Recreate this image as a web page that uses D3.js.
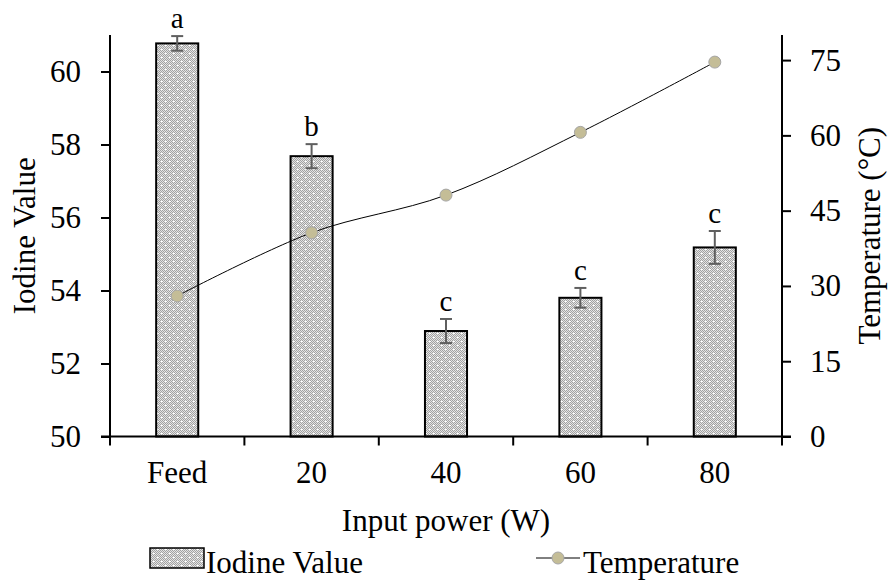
<!DOCTYPE html>
<html>
<head>
<meta charset="utf-8">
<script src="https://cdn.jsdelivr.net/npm/d3@7"></script>
<style>
  html, body { margin: 0; padding: 0; background: #fff; }
  svg { display: block; }
  text { font-family: "Liberation Serif", "Times New Roman", serif; fill: #000; }
</style>
</head>
<body>
<svg id="chart" width="888" height="580"></svg>
<script>
// Iodine value (bars, left axis) and temperature (line, right axis) by input power
const categories = ["Feed", "20", "40", "60", "80"];
const iodineValue = [60.77, 57.68, 52.89, 53.80, 55.18];
const iodineError = [0.20, 0.33, 0.33, 0.27, 0.45];
const groupLetters = ["a", "b", "c", "c", "c"];
const temperature = [28.0, 40.6, 48.1, 60.6, 74.6];
const leftTicks = [50, 52, 54, 56, 58, 60];
const rightTicks = [0, 15, 30, 45, 60, 75];

const svg = d3.select("#chart");
const plot = { left: 110, right: 782, top: 35, bottom: 436.5 };
const fontSize = 31;

const x = d3.scaleBand().domain(categories).range([plot.left, plot.right]).padding(0);
const yL = d3.scaleLinear().domain([50, 61]).range([plot.bottom, plot.top]);
const yR = d3.scaleLinear().domain([0, 80]).range([plot.bottom, plot.top]);
const barW = x.bandwidth() * 0.313;

// Dotted-grid fill for the bars
const defs = svg.append("defs");
const pat = defs.append("pattern")
  .attr("id", "dotGrid").attr("patternUnits", "userSpaceOnUse")
  .attr("width", 8).attr("height", 8);
pat.append("rect").attr("width", 8).attr("height", 8).attr("fill", "#e4e4e4");
for (let i = 0; i < 8; i++) {
  for (let j = 0; j < 8; j++) {
    if ((i + j) % 2 === 0) {
      pat.append("rect").attr("x", i).attr("y", j).attr("width", 1).attr("height", 1).attr("fill", "#a2a2a2");
    }
  }
}
pat.append("rect").attr("x", 1).attr("y", 1).attr("width", 2).attr("height", 1).attr("fill", "#ffffff");
pat.append("rect").attr("x", 5).attr("y", 5).attr("width", 2).attr("height", 1).attr("fill", "#ffffff");

// Bars
svg.append("g").selectAll("rect")
  .data(categories)
  .join("rect")
  .attr("x", (d) => x(d) + x.bandwidth() / 2 - barW / 2)
  .attr("y", (d, i) => yL(iodineValue[i]))
  .attr("width", barW)
  .attr("height", (d, i) => yL(50) - yL(iodineValue[i]))
  .attr("fill", "url(#dotGrid)")
  .attr("stroke", "#000")
  .attr("stroke-width", 2);

// Error bars
const eb = svg.append("g").attr("stroke", "#5f5f5f").attr("stroke-width", 2);
categories.forEach((c, i) => {
  const cx = x(c) + x.bandwidth() / 2;
  const hi = yL(iodineValue[i] + iodineError[i]);
  const lo = yL(iodineValue[i] - iodineError[i]);
  eb.append("line").attr("x1", cx).attr("x2", cx).attr("y1", hi).attr("y2", lo);
  eb.append("line").attr("x1", cx - 6).attr("x2", cx + 6).attr("y1", hi).attr("y2", hi);
  eb.append("line").attr("x1", cx - 6).attr("x2", cx + 6).attr("y1", lo).attr("y2", lo);
});

// Significance letters
svg.append("g").selectAll("text")
  .data(categories)
  .join("text")
  .attr("x", (d) => x(d) + x.bandwidth() / 2)
  .attr("y", (d, i) => yL(iodineValue[i] + iodineError[i]) - 8)
  .attr("text-anchor", "middle")
  .attr("font-size", 29)
  .text((d, i) => groupLetters[i]);

// Temperature line
const line = d3.line()
  .x((d, i) => x(categories[i]) + x.bandwidth() / 2)
  .y((d) => yR(d))
  .curve(d3.curveCatmullRom.alpha(0.5));
svg.append("path")
  .datum(temperature)
  .attr("d", line)
  .attr("fill", "none")
  .attr("stroke", "#000")
  .attr("stroke-width", 1);
svg.append("g").selectAll("circle")
  .data(temperature)
  .join("circle")
  .attr("cx", (d, i) => x(categories[i]) + x.bandwidth() / 2)
  .attr("cy", (d) => yR(d))
  .attr("r", 6)
  .attr("fill", "#c4bd97")
  .attr("stroke", "#a6a6a6")
  .attr("stroke-width", 1);

// Axes
const gL = svg.append("g").attr("transform", `translate(${plot.left},0)`)
  .call(d3.axisLeft(yL).tickValues(leftTicks).tickSize(9).tickPadding(20).tickFormat(d3.format("d")));
const gR = svg.append("g").attr("transform", `translate(${plot.right},0)`)
  .call(d3.axisRight(yR).tickValues(rightTicks).tickSize(9).tickPadding(19).tickFormat(d3.format("d")));
const gX = svg.append("g").attr("transform", `translate(0,${plot.bottom})`)
  .call(d3.axisBottom(x).tickSize(0).tickPadding(24));

[gL, gR, gX].forEach((g) => {
  g.select(".domain").attr("stroke", "#000").attr("stroke-width", 2);
  g.selectAll(".tick line").attr("stroke", "#000").attr("stroke-width", 2);
  g.selectAll(".tick text").attr("font-size", fontSize).attr("font-family", "Liberation Serif").attr("fill", "#000");
});
gL.select(".domain").attr("d", `M0,${plot.top}V${plot.bottom}`);
gR.select(".domain").attr("d", `M0,${plot.top}V${plot.bottom}`);
gX.select(".domain").attr("d", `M${plot.left - 9},0H${plot.right + 9}`);
gX.selectAll(".tick text").attr("dy", "0.71em");

// Category boundary ticks on the x axis
const bounds = categories.map((c) => x(c)).concat([plot.right]);
svg.append("g").selectAll("line")
  .data(bounds)
  .join("line")
  .attr("x1", (d) => d).attr("x2", (d) => d)
  .attr("y1", plot.bottom).attr("y2", plot.bottom + 9)
  .attr("stroke", "#000").attr("stroke-width", 2);

// Axis titles
svg.append("text")
  .attr("transform", `translate(35,${(plot.top + plot.bottom) / 2}) rotate(-90)`)
  .attr("text-anchor", "middle")
  .attr("font-size", fontSize)
  .text("Iodine Value");
svg.append("text")
  .attr("transform", `translate(880,${(plot.top + plot.bottom) / 2}) rotate(-90)`)
  .attr("text-anchor", "middle")
  .attr("font-size", fontSize)
  .text("Temperature (°C)");
svg.append("text")
  .attr("x", (plot.left + plot.right) / 2)
  .attr("y", 531)
  .attr("text-anchor", "middle")
  .attr("font-size", fontSize)
  .text("Input power (W)");

// Legend
const lg = svg.append("g");
lg.append("rect").attr("x", 150).attr("y", 548).attr("width", 54).attr("height", 20)
  .attr("fill", "url(#dotGrid)").attr("stroke", "#000").attr("stroke-width", 1.5);
lg.append("text").attr("x", 206).attr("y", 573).attr("font-size", fontSize).text("Iodine Value");
lg.append("line").attr("x1", 536).attr("x2", 580).attr("y1", 558).attr("y2", 558)
  .attr("stroke", "#000").attr("stroke-width", 1);
lg.append("circle").attr("cx", 558).attr("cy", 558).attr("r", 6)
  .attr("fill", "#c4bd97").attr("stroke", "#a6a6a6").attr("stroke-width", 1);
lg.append("text").attr("x", 583).attr("y", 573).attr("font-size", fontSize).text("Temperature");
</script>
</body>
</html>
